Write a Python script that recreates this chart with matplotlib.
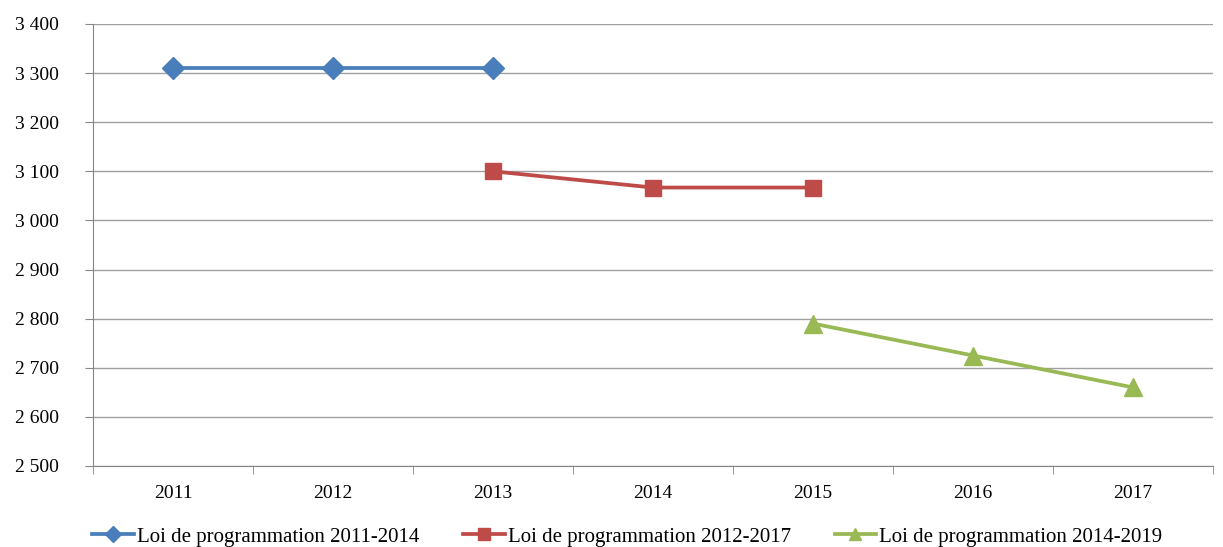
import numpy as np
from matplotlib import pyplot as plt

plt.rcParams['font.family'] = ['Liberation Serif', 'DejaVu Serif']

annees = ['2011', '2012', '2013', '2014', '2015', '2016', '2017']

# Trajectoires votées par chaque loi de programmation (indices des années)
lp_2011_x = [0, 1, 2]
lp_2011_y = [3310, 3310, 3310]
lp_2012_x = [2, 3, 4]
lp_2012_y = [3100, 3067, 3067]
lp_2014_x = [4, 5, 6]
lp_2014_y = [2790, 2725, 2660]

labels = ['Loi de programmation 2011-2014',
          'Loi de programmation 2012-2017',
          'Loi de programmation 2014-2019']

fig = plt.figure(figsize=(12.23, 5.47), dpi=100)
ax = fig.add_axes([93 / 1223, 1 - 466 / 547, 1120 / 1223, 442 / 547])

ax.plot(lp_2011_x, lp_2011_y, color='#4a7ebb', lw=2.7, marker='D', ms=11,
        label=labels[0])
ax.plot(lp_2012_x, lp_2012_y, color='#be4b48', lw=2.7, marker='s', ms=12,
        label=labels[1])
ax.plot(lp_2014_x, lp_2014_y, color='#98b954', lw=2.7, marker='^', ms=13,
        label=labels[2])

ax.set_xlim(-0.5, 6.5)
ax.set_ylim(2500, 3400)
ax.set_yticks(np.arange(2500, 3401, 100))
ax.set_yticklabels([f'{v:,}'.replace(',', ' ') for v in range(2500, 3401, 100)])
ax.set_xticks(range(len(annees)))
ax.set_xticklabels(annees)
ax.set_xticks(np.arange(-0.5, 7, 1), minor=True)
ax.tick_params(axis='x', which='major', length=0, pad=14, labelsize=14)
ax.tick_params(axis='x', which='minor', length=5.5, color='#868686')
ax.tick_params(axis='y', length=5.5, color='#868686', pad=19, labelsize=14)

ax.grid(axis='y', color='#a0a0a0', lw=1)
ax.set_axisbelow(True)
for side in ['top', 'right']:
    ax.spines[side].set_visible(False)
for side in ['left', 'bottom']:
    ax.spines[side].set_color('#868686')

ax.legend(loc='upper center', bbox_to_anchor=(0.477, -0.096), ncol=3,
          frameon=False, fontsize=15, handlelength=2.0, handletextpad=0.15,
          columnspacing=2.1, markerscale=0.7)

fig.savefig('out.png', dpi=100)
